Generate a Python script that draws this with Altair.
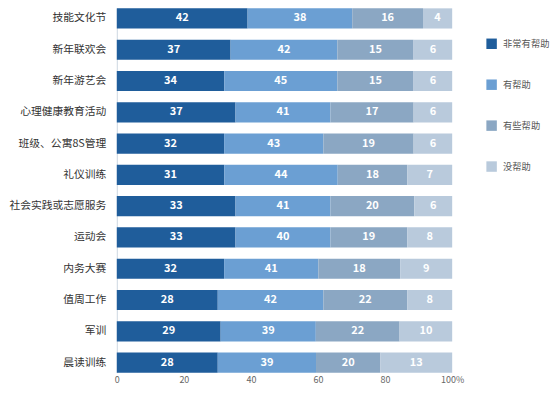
import altair as alt
import pandas as pd

categories = ["技能文化节", "新年联欢会", "新年游艺会", "心理健康教育活动", "班级、公寓8S管理", "礼仪训练",
              "社会实践或志愿服务", "运动会", "内务大赛", "值周工作", "军训", "晨读训练"]
levels = ["非常有帮助", "有帮助", "有些帮助", "没帮助"]

# printed data labels (as shown on the bars)
very_helpful = [42, 37, 34, 37, 32, 31, 33, 33, 32, 28, 29, 28]
helpful = [38, 42, 45, 41, 43, 44, 41, 40, 41, 42, 39, 39]
some_help = [16, 15, 15, 17, 19, 18, 20, 19, 18, 22, 22, 20]
no_help = [4, 6, 6, 6, 6, 7, 6, 8, 9, 8, 10, 13]

# segment lengths as drawn in the picture (percent of bar)
very_len = [39.0, 33.9, 32.0, 35.4, 32.0, 32.0, 35.4, 35.4, 32.0, 30.1, 31.0, 30.1]
helpful_len = [31.2, 31.8, 33.7, 28.3, 29.6, 33.8, 28.3, 28.3, 28.1, 31.5, 28.4, 29.3]
some_len = [21.1, 22.7, 22.7, 24.8, 26.9, 20.7, 25.0, 22.9, 24.4, 25.0, 25.0, 19.2]
no_len = [8.7, 11.5, 11.5, 11.5, 11.5, 13.4, 11.3, 13.4, 15.5, 13.4, 15.7, 21.4]

colors = ["#1f5d9b", "#6b9fd3", "#8ba7c3", "#b9cadc"]

label_series = [very_helpful, helpful, some_help, no_help]
len_series = [very_len, helpful_len, some_len, no_len]
rows = []
for i, c in enumerate(categories):
    for k, lev in enumerate(levels):
        rows.append({"cat": c, "level": lev, "value": label_series[k][i],
                     "length": len_series[k][i], "order": k})
df = pd.DataFrame(rows)

FONT = "Noto Sans CJK SC"

base = alt.Chart(df).transform_joinaggregate(
    total="sum(length)", groupby=["cat"]
).transform_window(
    cum="sum(length)", sort=[{"field": "order"}], groupby=["cat"], frame=[None, 0]
).transform_calculate(
    start="(datum.cum - datum.length) / datum.total",
    end="datum.cum / datum.total",
    mid="(datum.cum - datum.length / 2) / datum.total",
)

y_enc = alt.Y("cat:N", sort=categories, title=None,
              scale=alt.Scale(paddingInner=0.355, paddingOuter=0),
              axis=alt.Axis(ticks=False, labelPadding=11, labelFontSize=10.8, labelColor="#333333",
                            labelFont=FONT, domainColor="#cdd7e1", minExtent=109, maxExtent=109))

bars = base.mark_bar().encode(
    x=alt.X("start:Q", title=None, scale=alt.Scale(domain=[0, 1], nice=False),
            axis=alt.Axis(values=[0, 0.2, 0.4, 0.6, 0.8, 1], ticks=False, domain=False, grid=False,
                          labelFlush=False,
                          labelExpr="datum.value == 1 ? '100%' : format(datum.value * 100, 'd')",
                          labelFontSize=9, labelColor="#666666", labelFont=FONT, labelPadding=3)),
    x2="end:Q",
    y=y_enc,
    color=alt.Color("level:N", sort=levels,
                    scale=alt.Scale(domain=levels, range=colors),
                    legend=alt.Legend(title=None, orient="none", legendX=370, legendY=30,
                                      symbolType="square", symbolSize=110, symbolStrokeWidth=0,
                                      rowPadding=30, labelOffset=6, labelFontSize=9.3,
                                      labelColor="#555555", labelFont=FONT, padding=0)),
    order=alt.Order("order:Q"),
)

labels = base.mark_text(color="white", fontWeight="bold", fontSize=11, font=FONT).encode(
    x=alt.X("mid:Q"),
    y=alt.Y("cat:N", sort=categories),
    text=alt.Text("value:Q"),
)

chart = (bars + labels).properties(width=336, height=365, padding=0).configure_view(stroke=None)

chart.save("out.html", embed_options={"renderer": "svg", "actions": False})
